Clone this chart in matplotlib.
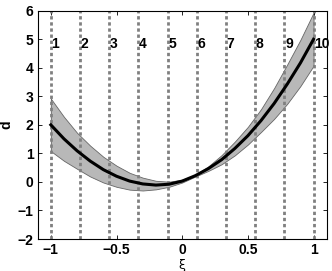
import numpy as np
import matplotlib
matplotlib.use("Agg")
import matplotlib.pyplot as plt

# Data
xi = [-1.0, -0.9, -0.8, -0.7, -0.6, -0.5, -0.4, -0.3, -0.2, -0.1, 0.0,
      0.1, 0.2, 0.3, 0.4, 0.5, 0.6, 0.7, 0.8, 0.9, 1.0]
d_mean = [2.00, 1.51, 1.09, 0.73, 0.43, 0.20, 0.03, -0.07, -0.11, -0.08, 0.03,
          0.22, 0.47, 0.78, 1.17, 1.62, 2.15, 2.75, 3.43, 4.17, 5.00]
d_upper = [2.92, 2.28, 1.72, 1.27, 0.88, 0.57, 0.32, 0.15, 0.04, 0.01, 0.08,
           0.25, 0.55, 0.94, 1.41, 1.93, 2.55, 3.29, 4.12, 4.98, 5.93]
d_lower = [1.08, 0.74, 0.46, 0.19, -0.02, -0.17, -0.27, -0.30, -0.26, -0.17, -0.02,
           0.19, 0.39, 0.62, 0.93, 1.31, 1.75, 2.21, 2.74, 3.36, 4.07]
nodes = [-1.0, -0.778, -0.556, -0.333, -0.111, 0.111, 0.333, 0.556, 0.778, 1.0]
node_labels = ["1", "2", "3", "4", "5", "6", "7", "8", "9", "10"]
xticks = [-1, -0.5, 0, 0.5, 1]
xtick_labels = ["\u22121", "\u22120.5", "0", "0.5", "1"]
yticks = [-2, -1, 0, 1, 2, 3, 4, 5, 6]
ytick_labels = ["\u22122", "\u22121", "0", "1", "2", "3", "4", "5", "6"]

plt.rcParams['font.family'] = ['Liberation Sans', 'DejaVu Sans']

fig = plt.figure(figsize=(3.32, 2.71), dpi=100)
ax = fig.add_axes([0.1136, 0.118, 0.8704, 0.8425])

ax.fill_between(xi, d_lower, d_upper, facecolor=(0.72, 0.72, 0.72),
                edgecolor=(0.4, 0.4, 0.4), linewidth=0.6, zorder=1)
ax.plot(xi, d_mean, color='black', linewidth=2.2, zorder=3)

for xn, lab in zip(nodes, node_labels):
    ax.axvline(xn, color=(0.5, 0.5, 0.5), linewidth=2.0,
               linestyle=(0, (1.2, 1.0)), zorder=2)
    ax.text(xn + 0.005, 4.83, lab, ha='left', va='center',
            fontsize=10, fontweight='bold', zorder=4)

ax.set_xlim(-1.1, 1.1)
ax.set_ylim(-2, 6)
ax.set_xticks(xticks)
ax.set_xticklabels(xtick_labels)
ax.set_yticks(yticks)
ax.set_yticklabels(ytick_labels)
ax.tick_params(direction='in', length=3, width=0.6, top=True, right=True,
               labelsize=10, pad=3)
for lbl in ax.get_xticklabels() + ax.get_yticklabels():
    lbl.set_fontweight('bold')
for s in ax.spines.values():
    s.set_linewidth(0.8)

ax.set_xlabel("\u03be", fontsize=9, labelpad=1, family=['DejaVu Sans'])
ax.set_ylabel("d", fontsize=10, fontweight='bold')
ax.yaxis.set_label_coords(-0.085, 0.5)

fig.savefig("out.png", dpi=100)
